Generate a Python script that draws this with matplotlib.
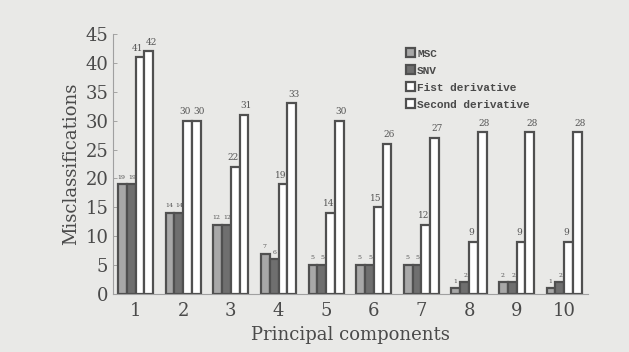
import matplotlib
matplotlib.use("Agg")
import matplotlib.pyplot as plt
import numpy as np

components = [1, 2, 3, 4, 5, 6, 7, 8, 9, 10]
msc = [19, 14, 12, 7, 5, 5, 5, 1, 2, 1]
snv = [19, 14, 12, 6, 5, 5, 5, 2, 2, 2]
first_deriv = [41, 30, 22, 19, 14, 15, 12, 9, 9, 9]
second_deriv = [42, 30, 31, 33, 30, 26, 27, 28, 28, 28]
series_names = ["MSC", "SNV", "Fist derivative", "Second derivative"]

bg = "#e9e9e7"
ink = "#4a4a4a"
fig = plt.figure(figsize=(6.29, 3.52), dpi=100, facecolor=bg)
ax = fig.add_axes([0.18, 0.165, 0.755, 0.738])
ax.set_facecolor(bg)

x = np.array(components, dtype=float)
w = 0.185
series = [msc, snv, first_deriv, second_deriv]
faces = ["#a8a8a8", "#6f6f6f", "white", "white"]
label_sizes = [4.5, 4.5, 6.5, 6.5]
nudges = [-0.02, 0.02, -0.045, 0.045]
for i, (vals, fc, name, fs) in enumerate(zip(series, faces, series_names, label_sizes)):
    pos = x + (i - 1.5) * w
    ax.bar(pos, vals, width=w, color=fc, edgecolor="#505050", linewidth=1.6,
           label=name, zorder=3)
    for px, v in zip(pos, vals):
        ax.text(px + nudges[i], v + 0.8, str(v), ha="center", va="bottom", fontsize=fs,
                family="DejaVu Serif", color="#555555", zorder=4)

ax.set_xlim(0.53, 10.5)
ax.set_ylim(0, 45)
ax.set_yticks(range(0, 46, 5))
ax.set_xticks(components)
ax.tick_params(axis="y", labelsize=13, colors="#999999", labelcolor=ink,
               direction="in", length=3, width=0.6)
ax.tick_params(axis="x", labelsize=13, colors="#999999", labelcolor=ink,
               length=0, pad=6)
for lab in ax.get_xticklabels() + ax.get_yticklabels():
    lab.set_family("DejaVu Serif")
for s in ["top", "right"]:
    ax.spines[s].set_visible(False)
ax.spines["left"].set_color("#a0a0a0")
ax.spines["left"].set_linewidth(0.8)
ax.spines["bottom"].set_color("#a0a0a0")
ax.spines["bottom"].set_linewidth(0.8)

ax.set_ylabel("Misclassifications", fontsize=13, family="DejaVu Serif",
              color=ink, labelpad=4)
ax.set_xlabel("Principal components", fontsize=13, family="DejaVu Serif",
              color=ink, labelpad=4)

leg = ax.legend(loc="upper left", bbox_to_anchor=(0.6, 0.975), frameon=False,
                prop={"family": "Liberation Mono", "size": 8, "weight": "bold"},
                handlelength=0.8, handleheight=0.8, handletextpad=0.2,
                labelspacing=0.62, borderaxespad=0.3)
for t in leg.get_texts():
    t.set_color(ink)

fig.savefig("out.png", dpi=100, facecolor=bg)
